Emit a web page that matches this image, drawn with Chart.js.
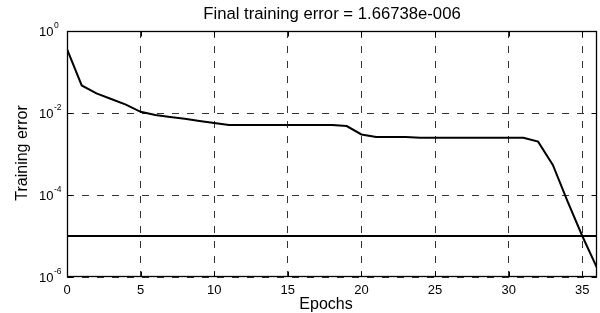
<!DOCTYPE html>
<html>
<head>
<meta charset="utf-8">
<script src="https://cdn.jsdelivr.net/npm/chart.js@4.4.0/dist/chart.umd.min.js"></script>
<style>
  html, body { margin: 0; padding: 0; background: #fff; }
  canvas { display: block; }
</style>
</head>
<body>
<canvas id="chart" width="600" height="313"></canvas>
<script>
// training record
const epochs = [0, 1, 2, 3, 4, 5, 6, 7, 8, 9, 10, 11, 12, 13, 14, 15, 16, 17, 18,
  19, 20, 21, 22, 23, 24, 25, 26, 27, 28, 29, 30, 31, 32, 33, 34, 35, 36];
const trainErr = [0.36, 0.047, 0.030, 0.022, 0.016, 0.0107, 0.0089, 0.0080, 0.0072,
  0.0064, 0.0057, 0.0051, 0.0051, 0.0051, 0.0051, 0.0051, 0.0051, 0.0051, 0.0051,
  0.0048, 0.0030, 0.0026, 0.0026, 0.0026, 0.0025, 0.0025, 0.0025, 0.0025, 0.0025,
  0.0025, 0.0025, 0.0025, 0.0020, 5.4e-4, 7e-5, 1.0e-5, 1.66738e-6];
const goal = 1e-5;
const goalX = [0, 36];

const xTicks = [0, 5, 10, 15, 20, 25, 30, 35];
const yTicks = [1e-6, 1e-4, 1e-2, 1];
const yExp = ['-6', '-4', '-2', '0'];

const titleText = 'Final training error = 1.66738e-006';
const xLabel = 'Epochs';
const yLabel = 'Training error';

const FONT = '"Liberation Sans", Arial, sans-serif';

const matlabAxes = {
  id: 'matlabAxes',
  afterDraw(chart) {
    const ctx = chart.ctx;
    const a = chart.chartArea;
    const xs = chart.scales.x, ys = chart.scales.y;
    const L = Math.round(a.left) + 0.5, R = Math.round(a.right) - 0.5;
    const T = Math.round(a.top) + 0.5, B = Math.round(a.bottom) - 0.5;
    ctx.save();
    ctx.strokeStyle = '#000';
    ctx.lineWidth = 1.3;
    ctx.setLineDash([]);
    ctx.strokeRect(L, T, R - L, B - T);

    // little inward tick marks on all four sides
    ctx.lineWidth = 1;
    ctx.beginPath();
    xTicks.forEach(v => {
      const px = Math.round(xs.getPixelForValue(v)) + 0.5;
      ctx.moveTo(px, B); ctx.lineTo(px, B - 5);
      ctx.moveTo(px, T); ctx.lineTo(px, T + 5);
    });
    yTicks.forEach(v => {
      const py = Math.round(ys.getPixelForValue(v)) + 0.5;
      ctx.moveTo(L, py); ctx.lineTo(L + 5, py);
      ctx.moveTo(R, py); ctx.lineTo(R - 5, py);
    });
    ctx.stroke();

    ctx.fillStyle = '#000';
    // x tick labels
    ctx.font = '13px ' + FONT;
    ctx.textAlign = 'center';
    ctx.textBaseline = 'top';
    xTicks.forEach(v => ctx.fillText(String(v), xs.getPixelForValue(v), a.bottom + 7));

    // y tick labels: 10 with a raised exponent
    yTicks.forEach((v, i) => {
      const py = ys.getPixelForValue(v);
      ctx.font = '13px ' + FONT;
      ctx.textAlign = 'right';
      ctx.textBaseline = 'middle';
      ctx.fillText('10', 53.5, py + 1);
      ctx.font = '8.5px ' + FONT;
      ctx.textAlign = 'left';
      ctx.textBaseline = 'top';
      ctx.fillText(yExp[i], 54, py - 10);
    });

    // axis titles and title
    ctx.font = '16px ' + FONT;
    ctx.textAlign = 'center';
    ctx.textBaseline = 'alphabetic';
    ctx.fillText(xLabel, 326, 309);
    ctx.save();
    ctx.translate(27, 153);
    ctx.rotate(-Math.PI / 2);
    ctx.fillText(yLabel, 0, 0);
    ctx.restore();

    ctx.font = '16.7px ' + FONT;
    ctx.fillText(titleText, (a.left + a.right) / 2, 19);
    ctx.restore();
  }
};

new Chart(document.getElementById('chart'), {
  type: 'line',
  data: {
    datasets: [
      {
        label: 'Train',
        data: epochs.map((e, i) => ({ x: e, y: trainErr[i] })),
        borderColor: '#000',
        borderWidth: 2,
        pointRadius: 0,
        tension: 0,
        fill: false,
      },
      {
        label: 'Goal',
        data: goalX.map(x => ({ x: x, y: goal })),
        borderColor: '#000',
        borderWidth: 2,
        pointRadius: 0,
        fill: false,
      },
    ],
  },
  options: {
    responsive: false,
    animation: false,
    devicePixelRatio: 1,
    layout: { padding: { left: 67, top: 31, right: 3, bottom: 36 } },
    plugins: { legend: { display: false }, tooltip: { enabled: false } },
    scales: {
      x: {
        type: 'linear',
        min: 0,
        max: 36,
        afterBuildTicks: s => { s.ticks = xTicks.map(v => ({ value: v })); },
        ticks: { display: false },
        grid: { color: '#333', lineWidth: 1, drawTicks: false },
        border: { display: false, dash: [7, 8] },
      },
      y: {
        type: 'logarithmic',
        min: 1e-6,
        max: 1,
        afterBuildTicks: s => { s.ticks = yTicks.map(v => ({ value: v })); },
        ticks: { display: false },
        grid: { color: '#333', lineWidth: 1, drawTicks: false },
        border: { display: false, dash: [7, 8] },
      },
    },
  },
  plugins: [matlabAxes],
});
</script>
</body>
</html>
